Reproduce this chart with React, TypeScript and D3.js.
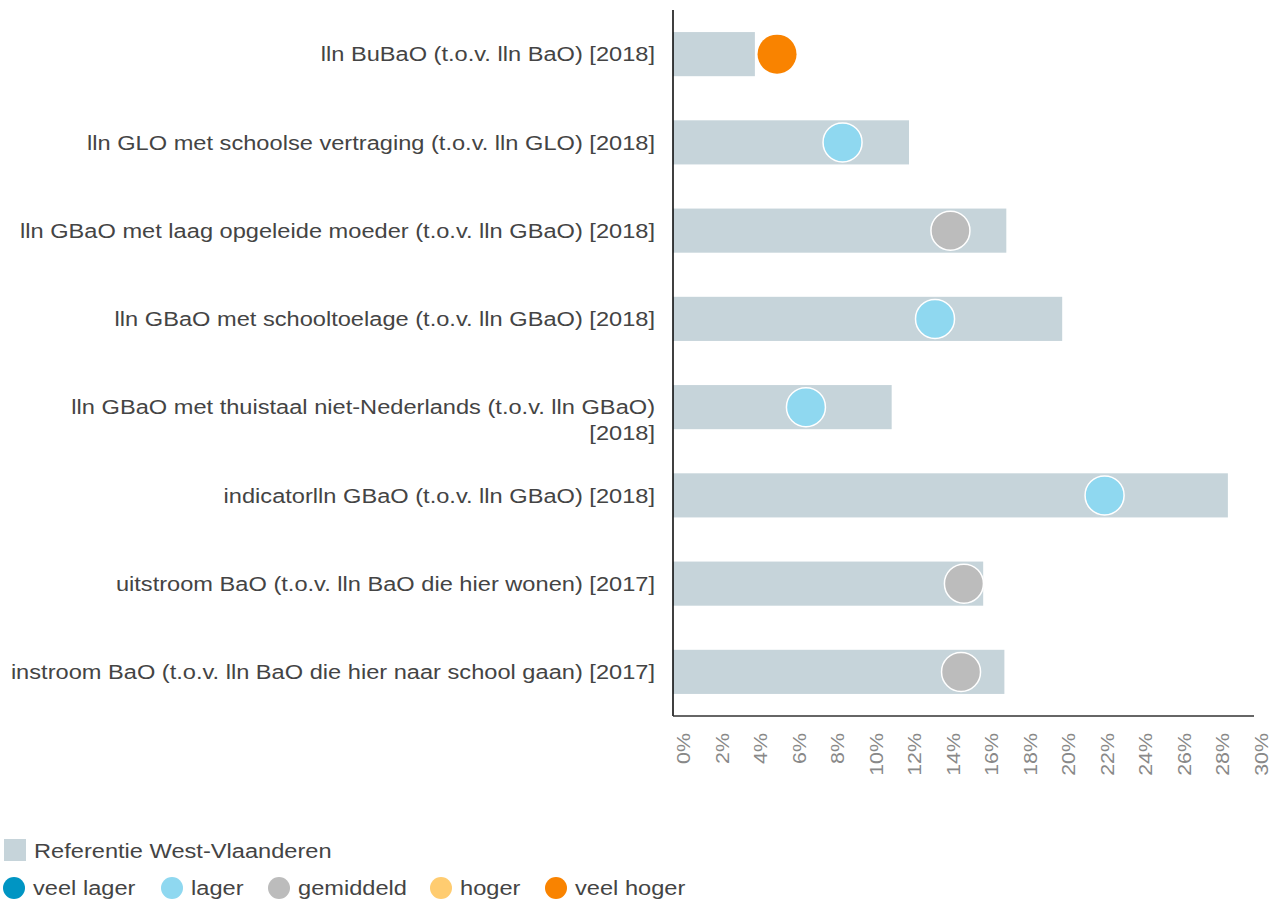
import React from "react";
import * as d3 from "d3";

const categories: string[][] = [
  ["lln BuBaO (t.o.v. lln BaO) [2018]"],
  ["lln GLO met schoolse vertraging (t.o.v. lln GLO) [2018]"],
  ["lln GBaO met laag opgeleide moeder (t.o.v. lln GBaO) [2018]"],
  ["lln GBaO met schooltoelage (t.o.v. lln GBaO) [2018]"],
  ["lln GBaO met thuistaal niet-Nederlands (t.o.v. lln GBaO)", "[2018]"],
  ["indicatorlln GBaO (t.o.v. lln GBaO) [2018]"],
  ["uitstroom BaO (t.o.v. lln BaO die hier wonen) [2017]"],
  ["instroom BaO (t.o.v. lln BaO die hier naar school gaan) [2017]"],
];
const referenceValues = [4.25, 12.25, 17.3, 20.2, 11.35, 28.8, 16.1, 17.2];
const pointValues = [5.4, 8.8, 14.4, 13.6, 6.9, 22.4, 15.1, 14.95];
const pointClasses = ["veel hoger", "lager", "gemiddeld", "lager", "lager", "lager", "gemiddeld", "gemiddeld"];
const classNames = ["veel lager", "lager", "gemiddeld", "hoger", "veel hoger"];
const classColors = ["#0095c3", "#8fd8f0", "#bcbcbc", "#ffcc70", "#f98300"];
const xTicks = d3.range(0, 31, 2);
const referenceLabel = "Referentie West-Vlaanderen";

const W = 1280, H = 902;
const left = 673, right = 1251, top = 10, bottom = 716;
const font = "'Liberation Sans', Arial, sans-serif";
const SX = 1.125;

export default function App() {
  const x = d3.scaleLinear().domain([0, 30]).range([left, right]);
  const y = d3.scaleBand<number>().domain(d3.range(categories.length)).range([top, bottom]).paddingInner(0.5).paddingOuter(0.25);
  const color = d3.scaleOrdinal<string, string>().domain(classNames).range(classColors);
  const legendXs = [14, 172, 279, 441, 556];
  return (
    <svg width={W} height={H} style={{ position: "absolute", left: 0, top: 0, background: "#fff" }} fontFamily={font}>
      {categories.map((lines, i) => {
        const cy = y(i)! + y.bandwidth() / 2;
        return (
          <g key={i}>
            <rect x={x(0)} y={y(i)} width={x(referenceValues[i]) - x(0)} height={y.bandwidth()} fill="#c6d4da" />
            {lines.map((ln, j) => (
              <text key={j} transform={`translate(655,${cy + j * 26}) scale(${SX},1)`} dy="0.35em" textAnchor="end" fontSize={21} fill="#444">{ln}</text>
            ))}
          </g>
        );
      })}
      {pointValues.map((v, i) => (
        <circle key={i} cx={x(v)} cy={y(i)! + y.bandwidth() / 2} r={19.5} fill={color(pointClasses[i])} stroke={pointClasses[i] === "veel hoger" ? "none" : "#fff"} strokeWidth={1.5} />
      ))}
      <line x1={left} x2={left} y1={top} y2={bottom} stroke="#000" strokeWidth={1.5} />
      <line x1={left} x2={1254} y1={bottom} y2={bottom} stroke="#333" strokeWidth={1.5} />
      {xTicks.map((t) => (
        <text key={t} transform={`translate(${x(t) + 17},${733}) rotate(-90) scale(${SX},1)`} textAnchor="end" fontSize={19} fill="#888">{t}%</text>
      ))}
      <rect x={4} y={839} width={22} height={22} fill="#c6d4da" />
      <text transform={`translate(34,851) scale(${SX},1)`} dy="0.35em" fontSize={21} fill="#444">{referenceLabel}</text>
      {classNames.map((c, i) => (
        <g key={c}>
          <circle cx={legendXs[i]} cy={888} r={11} fill={color(c)} />
          <text transform={`translate(${legendXs[i] + 19},888) scale(${SX},1)`} dy="0.35em" fontSize={21} fill="#444">{c}</text>
        </g>
      ))}
    </svg>
  );
}
